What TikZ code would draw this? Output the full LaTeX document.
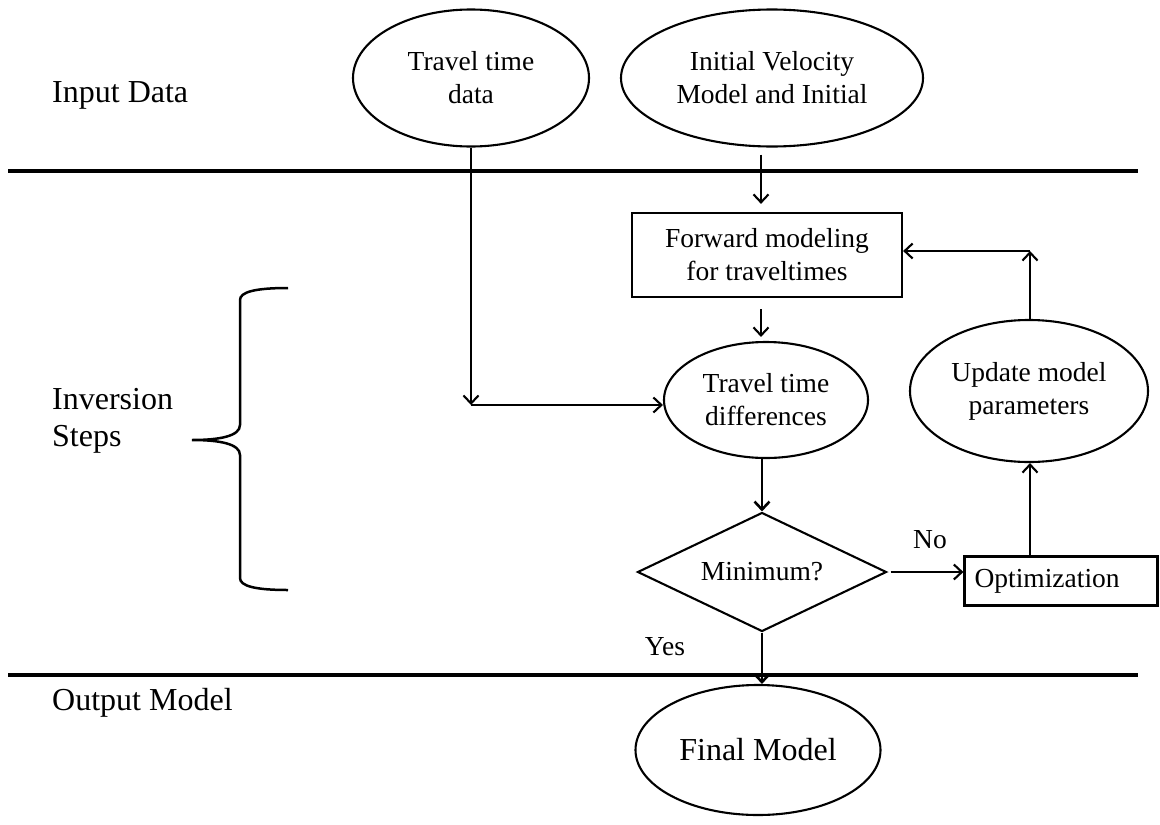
\documentclass[tikz,border=0pt]{standalone}
\usepackage{fontspec}
\setmainfont{Liberation Serif}
\usetikzlibrary{shapes.geometric, arrows.meta}
\begin{document}
\begin{tikzpicture}[x=1pt,y=-1pt,
  every node/.style={inner sep=0pt, font=\fontsize{27.5}{33}\selectfont, align=center},
  ell/.style={ellipse, draw, line width=2.1pt},
  bx/.style={rectangle, draw, line width=2.2pt},
  lbl/.style={anchor=west, font=\fontsize{32}{37}\selectfont, align=left},
  conn/.style={line width=2.1pt, -{Straight Barb[length=8pt,width=15pt]}},
  thickconn/.style={conn, line width=2.6pt},
  rule/.style={line width=3.2pt}]
\useasboundingbox (0,0) rectangle (1160,825);

% section rules
\coordinate (r1a) at (8,171);
\coordinate (r1b) at (1138,171);
\coordinate (r2a) at (8,675);
\coordinate (r2b) at (1138,675);
\draw[rule] (r1a) -- (r1b);
\draw[rule] (r2a) -- (r2b);

% section labels
\node[lbl] (lin) at (52,95) {Input Data};
\node[lbl] (linv) at (52,421) {Inversion\\Steps};
\node[lbl] (lout) at (52,703) {Output Model};

% brace
\draw[line width=2.5pt] (288,288) .. controls (255,288) and (240,292) .. (240,300)
  -- (240,425) .. controls (240,436) and (220,440) .. (192,440)
  .. controls (220,440) and (240,444) .. (240,455)
  -- (240,578) .. controls (240,586) and (255,590) .. (288,590);

% nodes
\node[ell, minimum width=236pt, minimum height=137pt] (tt) at (471,78) {Travel time\\data};
\node[ell, minimum width=302pt, minimum height=137pt] (iv) at (772,78) {Initial Velocity\\Model and Initial};
\node[bx, minimum width=270pt, minimum height=84pt] (fwd) at (767,255) {Forward modeling\\for traveltimes};
\node[ell, minimum width=204pt, minimum height=116pt] (diff) at (766,400) {Travel time\\differences};
\node[ell, minimum width=238pt, minimum height=142pt] (upd) at (1029,391) {Update model\\parameters};
\node[diamond, draw, line width=2.1pt, aspect=2, minimum width=249pt, minimum height=119pt] (dia) at (762,572) {Minimum?};
\node[bx, minimum height=49pt, text width=173pt, inner xsep=10pt, align=left] (opt) at (1061,581) {Optimization};
\node[ell, minimum width=245pt, minimum height=130pt, font=\fontsize{32}{37}\selectfont] (fin) at (758,750) {Final Model};

\node (no) at (930,540) {No};
\node (yes) at (665,647) {Yes};

% connectors
\coordinate (c1) at (471,405);
\coordinate (colx) at (761,0);
\coordinate (upx) at (1030,0);
\coordinate (c2) at (1030,251);

\draw[conn] (tt.south) -- (c1);
\draw[conn] (c1) -- (c1 -| diff.west);
\draw[conn, shorten <=7pt, shorten >=8pt] (iv.south -| colx) -- (fwd.north -| colx);
\draw[conn, shorten <=11pt, shorten >=4pt] (fwd.south -| colx) -- (diff.north -| colx);
\draw[thickconn] (diff.south -| dia.north) -- (dia.north);
\draw[thickconn] (dia.south) -- (dia.south |- fin.north);
\draw[conn, shorten <=3pt] (dia.east) -- (dia.east -| opt.west);
\draw[conn] (opt.north -| upx) -- (upd.south -| upx);
\draw[conn] (upd.north -| upx) -- (c2);
\draw[conn] (c2) -- (c2 -| fwd.east);
\end{tikzpicture}
\end{document}
